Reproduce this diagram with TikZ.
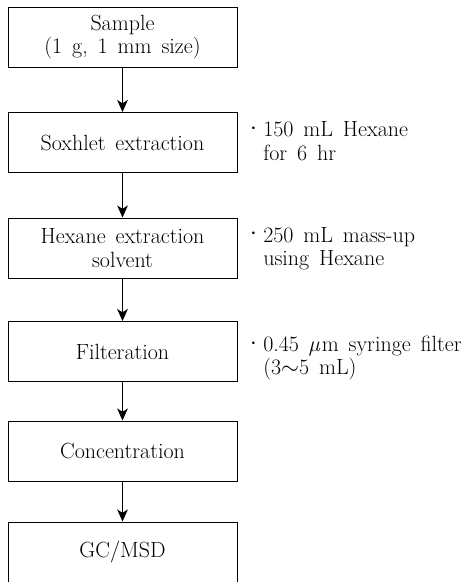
\documentclass[tikz,border=0pt]{standalone}
\usepackage{fontspec}
\usetikzlibrary{arrows.meta}
\newcommand{\notedot}{\llap{\raisebox{0.55ex}{\scalebox{0.55}{\textbullet}}\hspace{4pt}}}
\newcommand{\flowfont}{\fontsize{16.5}{17.5}\selectfont\spaceskip=0.45em plus 0.1em\relax}
\tikzset{
  stepbox/.style={draw, line width=0.75pt, minimum width=171.75pt, minimum height=45pt,
                  align=center, inner sep=2pt, font=\flowfont},
  notetxt/.style={anchor=west, align=left, inner sep=0pt, font=\flowfont},
  flow/.style={-{Stealth[length=9pt,width=8pt,inset=2.5pt]}, line width=0.75pt},
}
\begin{document}
\begin{tikzpicture}[x=0.75pt, y=-0.75pt]
  \useasboundingbox (0,0) rectangle (462,582);
  % --- process steps ---
  \node[stepbox] (sample) at (122.5,37)    {Sample\\(1 g, 1 mm size)};
  \node[stepbox] (soxh)   at (122.5,142.5) {Soxhlet extraction};
  \node[stepbox] (hexsol) at (122.5,248)   {Hexane extraction\\solvent};
  \node[stepbox] (filt)   at (122.5,351.5) {Filteration};
  \node[stepbox] (conc)   at (122.5,451)   {Concentration};
  \node[stepbox] (gcmsd)  at (122.5,552)   {GC/MSD};

  % --- notes ---
  \node[notetxt] (nsoxh) at (263,141)   {\notedot150 mL Hexane\\for 6 hr};
  \node[notetxt] (nhex)  at (263,248.5) {\notedot250 mL mass-up\\using Hexane};
  \node[notetxt] (nfilt) at (263,358)   {\notedot0.45 {\itshape µ\/}\kern1pt m syringe filter\\(3$\sim$5 mL)};

  % --- arrows ---
  \draw[flow] (sample) -- (soxh);
  \draw[flow] (soxh)   -- (hexsol);
  \draw[flow] (hexsol) -- (filt);
  \draw[flow] (filt)   -- (conc);
  \draw[flow] (conc)   -- (gcmsd);
\end{tikzpicture}
\end{document}
